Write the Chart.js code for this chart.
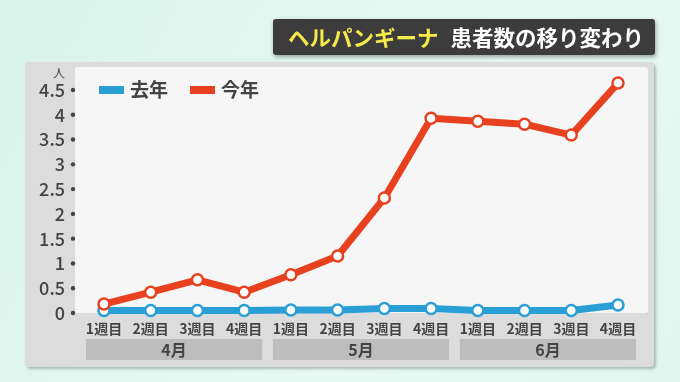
<!DOCTYPE html>
<html>
<head>
<meta charset="utf-8">
<script src="https://cdn.jsdelivr.net/npm/chart.js@4/dist/chart.umd.min.js"></script>
<style>
html,body{margin:0;padding:0;background:#e6f7f2;}
#c{display:block;}
</style>
</head>
<body>
<canvas id="c" width="680" height="382" style="width:680px;height:382px"></canvas>
<script>
const categories = ['1週目','2週目','3週目','4週目','1週目','2週目','3週目','4週目','1週目','2週目','3週目','4週目'];
const months = ['4月','5月','6月'];
const weeksPerMonth = 4;
const lastYear = [0.05,0.05,0.05,0.05,0.06,0.06,0.09,0.09,0.05,0.05,0.05,0.16];
const thisYear = [0.18,0.42,0.67,0.42,0.77,1.15,2.32,3.93,3.87,3.81,3.59,4.64];
const seriesNames = ['去年','今年'];
const seriesColors = ['#2a9fd6','#e8411f'];
const titleYellow = 'ヘルパンギーナ';
const titleWhite = '患者数の移り変わり';
const yUnit = '人';

const FONT = '"Noto Sans CJK JP", "Noto Sans", sans-serif';

function rr(ctx,x,y,w,h,r){
  ctx.beginPath();
  ctx.moveTo(x+r,y);ctx.lineTo(x+w-r,y);ctx.quadraticCurveTo(x+w,y,x+w,y+r);
  ctx.lineTo(x+w,y+h-r);ctx.quadraticCurveTo(x+w,y+h,x+w-r,y+h);
  ctx.lineTo(x+r,y+h);ctx.quadraticCurveTo(x,y+h,x,y+h-r);
  ctx.lineTo(x,y+r);ctx.quadraticCurveTo(x,y,x+r,y);ctx.closePath();
}

const decor = {
  id:'decor',
  beforeDraw(chart){
    const ctx = chart.ctx, ca = chart.chartArea, xs = chart.scales.x;
    ctx.save();
    const g = ctx.createLinearGradient(0,0,680,382);
    g.addColorStop(0,'#d8f4eb');
    g.addColorStop(0.6,'#e9f9f4');
    g.addColorStop(1,'#e0f6ef');
    ctx.fillStyle = g; ctx.fillRect(0,0,680,382);
    // title box
    ctx.save();
    ctx.shadowColor='rgba(0,0,0,0.35)'; ctx.shadowBlur=4; ctx.shadowOffsetX=1; ctx.shadowOffsetY=2;
    ctx.fillStyle='#3c3c3c'; rr(ctx,273,19,382,36,3); ctx.fill();
    ctx.restore();
    ctx.font = 'bold 21.5px '+FONT; ctx.textBaseline='middle'; ctx.textAlign='left';
    ctx.fillStyle='#f6ea4a'; ctx.fillText(titleYellow,288,38);
    const w1 = ctx.measureText(titleYellow).width;
    ctx.fillStyle='#ffffff'; ctx.fillText(titleWhite,288+w1+12,38);
    // gray panel
    ctx.save();
    ctx.shadowColor='rgba(0,0,0,0.25)'; ctx.shadowBlur=3; ctx.shadowOffsetX=2; ctx.shadowOffsetY=2;
    ctx.fillStyle='#dcdcdc'; rr(ctx,25,62,629,305,4); ctx.fill();
    ctx.restore();
    // light plot panel
    ctx.fillStyle='#f6f6f6';
    rr(ctx,ca.left-29,ca.top-23,(ca.right+30)-(ca.left-29),ca.bottom-(ca.top-23),3); ctx.fill();
    // month boxes
    ctx.font = 'bold 16px '+FONT; ctx.textAlign='center';
    months.forEach((m,i)=>{
      const x0 = xs.getPixelForValue(i*weeksPerMonth)-18;
      const x1 = xs.getPixelForValue(i*weeksPerMonth+weeksPerMonth-1)+18;
      ctx.fillStyle='#bdbdbd'; ctx.fillRect(x0,339,x1-x0,21);
      ctx.fillStyle='#444444'; ctx.fillText(m,(x0+x1)/2,350);
    });
    ctx.restore();
  },
  afterDraw(chart){
    const ctx = chart.ctx, ys = chart.scales.y, ca = chart.chartArea;
    ctx.save();
    ctx.fillStyle='#444444';
    ys.ticks.forEach(t=>{
      const y = ys.getPixelForValue(t.value);
      ctx.beginPath(); ctx.arc(73,y,2.2,0,Math.PI*2); ctx.fill();
    });
    ctx.font='12px '+FONT; ctx.textAlign='center'; ctx.textBaseline='middle';
    ctx.fillText(yUnit,59,73);
    // legend
    ctx.font='bold 19px '+FONT; ctx.textAlign='left';
    let x = 99;
    chart.data.datasets.forEach((d,i)=>{
      ctx.fillStyle=d.borderColor; ctx.fillRect(x,86,25,8);
      ctx.fillStyle='#444444'; ctx.fillText(d.label,x+31,90);
      x += 91;
    });
    ctx.restore();
  }
};

new Chart(document.getElementById('c'),{
  type:'line',
  data:{
    labels:categories,
    datasets:[
      {label:seriesNames[0],data:lastYear,borderColor:seriesColors[0],backgroundColor:'#ffffff',borderWidth:7,clip:false,
       pointRadius:5.5,pointBorderWidth:2.5,pointBackgroundColor:'#ffffff',pointBorderColor:seriesColors[0],order:1,tension:0},
      {label:seriesNames[1],data:thisYear,borderColor:seriesColors[1],backgroundColor:'#ffffff',borderWidth:7,clip:false,
       pointRadius:5.5,pointBorderWidth:2.5,pointBackgroundColor:'#ffffff',pointBorderColor:seriesColors[1],order:0,tension:0}
    ]
  },
  options:{
    responsive:false,devicePixelRatio:1,animation:false,
    layout:{padding:{top:90,left:0,right:62,bottom:0}},
    plugins:{legend:{display:false},tooltip:{enabled:false}},
    elements:{line:{borderCapStyle:'round',borderJoinStyle:'round'}},
    scales:{
      x:{offset:false,grid:{display:false,drawTicks:false},border:{display:false},
         ticks:{padding:7,color:'#444444',font:{family:FONT,size:14,weight:'bold'},maxRotation:0,autoSkip:false},
         afterFit(s){s.height=69;}},
      y:{min:0,max:4.5,grid:{display:false,drawTicks:false},border:{display:false},
         ticks:{stepSize:0.5,padding:39,color:'#444444',font:{family:FONT,size:18,weight:'500'},
           callback:v=>String(v)},
         afterFit(s){s.width=104;}}
    }
  },
  plugins:[decor]
});
</script>
</body>
</html>
